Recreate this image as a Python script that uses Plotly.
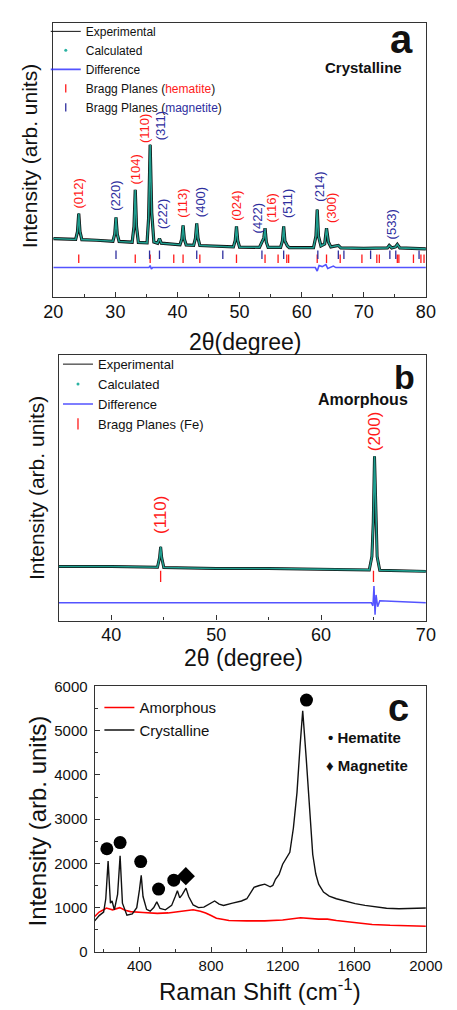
import plotly.graph_objects as go

W, H = 457, 1010
FONT = "Liberation Sans, Arial, sans-serif"
TEAL = "#1f9e8f"
RED = "#ff1a1a"
NAVY = "#2e2e9e"
DIFF_BLUE = "rgba(40,40,255,0.8)"

# ---------------- (a) crystalline XRD pattern ----------------
A_2THETA = [20.0, 22.0, 23.6, 23.9, 24.1, 24.3, 24.6, 27.0, 29.6, 29.9, 30.1, 30.3, 30.6,
            32.7, 33.0, 33.2, 33.4, 33.7, 35.1, 35.35, 35.6, 35.85, 36.2, 36.8, 37.1, 37.4,
            40.4, 40.7, 40.9, 41.1, 41.4, 42.6, 42.9, 43.1, 43.3, 43.6, 49.0, 49.3, 49.5,
            49.7, 50.0, 53.2, 53.6, 53.9, 54.1, 54.3, 54.6, 56.6, 56.9, 57.1, 57.3, 57.7,
            58.0, 61.9, 62.3, 62.5, 62.7, 63.1, 63.7, 64.0, 64.3, 64.7, 65.9, 66.3, 70.0,
            73.8, 74.1, 74.5, 75.1, 75.4, 75.8, 80.0]
A_INTENSITY = [595, 590, 586, 665, 850, 665, 584, 578, 568, 641, 810, 641, 566,
               558, 718, 1090, 718, 556, 552, 800, 1550, 860, 560, 548, 595, 548,
               532, 590, 730, 590, 530, 526, 600, 750, 600, 524, 510, 575, 720,
               575, 508, 506, 560, 600, 700, 560, 505, 505, 570, 720, 570, 520,
               503, 502, 620, 890, 620, 520, 540, 700, 560, 510, 525, 500, 495,
               500, 525, 500, 510, 535, 500, 490]
A_DIFF_2THETA = [20.0, 35.4, 35.6, 35.8, 36.0, 62.2, 62.5, 62.8, 63.3, 63.9, 64.2, 64.7, 65.1, 65.5, 80.0]
A_DIFF = [300, 300, 320, 285, 300, 300, 265, 320, 310, 330, 290, 305, 315, 300, 300]
A_HEMATITE_PLANES = [24.1, 33.2, 35.6, 39.4, 40.9, 43.6, 49.5, 54.1, 56.2, 57.6, 57.9, 62.5,
                     64.0, 66.2, 69.7, 72.1, 72.5, 75.4, 75.65, 78.0, 79.2, 79.7]
A_MAGNETITE_PLANES = [30.1, 35.5, 37.1, 43.1, 47.3, 53.6, 57.1, 62.6, 65.9, 66.8, 71.1, 74.2, 75.15, 78.9]
A_LABELS = ["(012)", "(220)", "(104)", "(110)", "(311)", "(222)", "(113)", "(400)",
            "(024)", "(422)", "(116)", "(511)", "(214)", "(300)", "(533)"]
A_LABEL_PHASE = ["h", "m", "h", "h", "m", "m", "h", "m", "h", "m", "h", "m", "m", "h", "m"]
A_LABEL_X = [24.1, 30.1, 33.2, 34.7, 37.4, 37.6, 40.9, 43.7, 49.6, 52.8, 55.2, 57.7, 62.9, 64.8, 74.4]
A_LABEL_Y = [1050, 1030, 1300, 1715, 1740, 840, 950, 970, 930, 800, 910, 950, 1120, 910, 740]

# ---------------- (b) amorphous XRD pattern ----------------
B_2THETA = [35.0, 40.0, 44.4, 44.6, 44.7, 44.8, 45.0, 50.0, 55.0, 60.0, 64.6, 64.85, 64.98,
            65.1, 65.22, 65.35, 65.6, 70.0]
B_INTENSITY = [550, 550, 542, 640, 750, 640, 540, 530, 530, 520, 515, 650, 1000,
               1670, 1000, 650, 512, 500]
B_DIFF_2THETA = [35.0, 64.8, 64.95, 65.05, 65.15, 65.25, 65.4, 65.6, 70.0]
B_DIFF = [180, 180, 150, 350, 60, 260, 140, 200, 180]
B_FE_PLANES = [44.7, 65.0]
B_LABELS = ["(110)", "(200)"]
B_LABEL_X = [44.7, 65.1]
B_LABEL_Y = [1070, 1920]

# ---------------- (c) Raman spectra ----------------
RAMAN_CRYST_X = [150, 175, 200, 212, 225, 238, 247, 260, 278, 292, 305, 330, 360, 385, 400, 410,
                 420, 440, 460, 480, 497, 515, 545, 580, 600, 612, 625, 640, 660, 675, 700, 730,
                 760, 790, 820, 845, 870, 920, 970, 1000, 1020, 1040, 1070, 1100, 1130, 1145,
                 1160, 1180, 1200, 1220, 1240, 1260, 1280, 1297, 1312, 1332, 1350, 1368, 1385,
                 1401, 1428, 1460, 1500, 1550, 1605, 1660, 1710, 1780, 1850, 1900, 1950, 2000]
RAMAN_CRYST_Y = [700, 820, 900, 1200, 2050, 1100, 1150, 950, 1300, 2170, 1100, 830, 860, 1000, 1400, 1730,
                 1250, 960, 920, 1000, 1130, 980, 950, 1050, 1250, 1380, 1220, 1300, 1440, 1250, 1060, 1000,
                 1010, 1080, 1150, 1080, 1050, 1100, 1150, 1200, 1320, 1460, 1500, 1530, 1470, 1500,
                 1640, 1750, 1980, 2100, 2250, 2800, 3600, 4640, 5450, 4350, 3240, 2200, 1760,
                 1530, 1350, 1260, 1200, 1140, 1090, 1050, 1020, 985, 975, 980, 990, 990]
RAMAN_AMORPH_X = [150, 175, 200, 215, 250, 290, 320, 350, 420, 500, 560, 600, 650, 700, 740, 770,
                  800, 830, 870, 900, 1000, 1100, 1200, 1300, 1400, 1450, 1500, 1600, 1700, 1800,
                  1900, 2000]
RAMAN_AMORPH_Y = [800, 900, 950, 990, 950, 1000, 940, 910, 890, 870, 880, 900, 920, 950, 920, 880,
                  820, 760, 730, 710, 700, 700, 720, 770, 740, 740, 710, 660, 620, 600,
                  590, 580]
HEMATITE_BANDS_X = [218, 292, 407, 507, 592, 1333]
HEMATITE_BANDS_Y = [2330, 2470, 2040, 1420, 1620, 5690]
MAGNETITE_BANDS_X = [659]
MAGNETITE_BANDS_Y = [1710]


def px_x(p):
    return p / W


def px_y(p):
    return 1 - p / H


fig = go.Figure()


def add_pattern(xs, ys, xa, ya, leg, band_width):
    """Observed pattern (black, with its scatter band) and the fitted profile on top."""
    fig.add_trace(go.Scatter(x=xs, y=ys, mode="lines", showlegend=False,
                             line=dict(color="#111111", width=band_width), xaxis=xa, yaxis=ya))
    fig.add_trace(go.Scatter(x=xs, y=ys, mode="lines", name="Experimental",
                             line=dict(color="#111111", width=1), xaxis=xa, yaxis=ya, legend=leg))
    fig.add_trace(go.Scatter(x=xs, y=ys, mode="lines", showlegend=False,
                             line=dict(color=TEAL, width=1.6), xaxis=xa, yaxis=ya))
    fig.add_trace(go.Scatter(x=[None], y=[None], mode="markers", name="Calculated",
                             marker=dict(color="#2bb3a3", size=3), xaxis=xa, yaxis=ya, legend=leg))


# (a)
add_pattern(A_2THETA, A_INTENSITY, "x", "y", "legend", 3.2)
fig.add_trace(go.Scatter(x=A_DIFF_2THETA, y=A_DIFF, mode="lines", name="Difference",
                         line=dict(color=DIFF_BLUE, width=1.6), xaxis="x", yaxis="y", legend="legend"))
fig.add_trace(go.Scatter(x=A_HEMATITE_PLANES, y=[390] * len(A_HEMATITE_PLANES), mode="markers",
                         name="Bragg Planes (<span style='color:#ff1a1a'>hematite</span>)",
                         marker=dict(symbol="line-ns", size=6, line=dict(color=RED, width=1.3)),
                         xaxis="x", yaxis="y", legend="legend"))
fig.add_trace(go.Scatter(x=A_MAGNETITE_PLANES, y=[430] * len(A_MAGNETITE_PLANES), mode="markers",
                         name="Bragg Planes (<span style='color:#2e2e9e'>magnetite</span>)",
                         marker=dict(symbol="line-ns", size=6, line=dict(color=NAVY, width=1.3)),
                         xaxis="x", yaxis="y", legend="legend"))

# (b)
add_pattern(B_2THETA, B_INTENSITY, "x2", "y2", "legend2", 3.0)
fig.add_trace(go.Scatter(x=B_DIFF_2THETA, y=B_DIFF, mode="lines", name="Difference",
                         line=dict(color=DIFF_BLUE, width=1.5), xaxis="x2", yaxis="y2", legend="legend2"))
fig.add_trace(go.Scatter(x=B_FE_PLANES, y=[450] * len(B_FE_PLANES), mode="markers",
                         name="Bragg Planes (Fe)",
                         marker=dict(symbol="line-ns", size=8, line=dict(color=RED, width=1.3)),
                         xaxis="x2", yaxis="y2", legend="legend2"))

# (c)
fig.add_trace(go.Scatter(x=RAMAN_AMORPH_X, y=RAMAN_AMORPH_Y, mode="lines", name="Amorphous",
                         line=dict(color="#ff0000", width=1.6), xaxis="x3", yaxis="y3", legend="legend3"))
fig.add_trace(go.Scatter(x=RAMAN_CRYST_X, y=RAMAN_CRYST_Y, mode="lines", name="Crystalline",
                         line=dict(color="#111111", width=1.4), xaxis="x3", yaxis="y3", legend="legend3"))
fig.add_trace(go.Scatter(x=HEMATITE_BANDS_X, y=HEMATITE_BANDS_Y, mode="markers", showlegend=False,
                         marker=dict(symbol="circle", size=13, color="#000000"), xaxis="x3", yaxis="y3"))
fig.add_trace(go.Scatter(x=MAGNETITE_BANDS_X, y=MAGNETITE_BANDS_Y, mode="markers", showlegend=False,
                         marker=dict(symbol="diamond", size=14, color="#000000"), xaxis="x3", yaxis="y3"))

frame = dict(showline=True, linecolor="#333333", linewidth=1.2, mirror=True, zeroline=False,
             showgrid=False)
xtick_ab = dict(ticks="inside", ticklen=5, tickcolor="#333333", dtick=10,
                minor=dict(ticks="inside", ticklen=3, dtick=5, tickcolor="#333333"),
                tickfont=dict(family=FONT, size=18, color="#111111"), ticklabelstandoff=-2)

legend_common = dict(xanchor="left", yanchor="top", bgcolor="rgba(0,0,0,0)", itemwidth=30,
                     tracegroupgap=0)

fig.update_layout(
    width=W, height=H, margin=dict(l=0, r=0, t=0, b=0),
    paper_bgcolor="white", plot_bgcolor="white", font=dict(family=FONT, color="#111111"),
    xaxis=dict(domain=[px_x(46), px_x(442)], range=[20, 80], anchor="y", **frame, **xtick_ab),
    yaxis=dict(domain=[px_y(293), px_y(14)], range=[0, 2790], anchor="x", showticklabels=False,
               ticks="", **frame),
    xaxis2=dict(domain=[px_x(52), px_x(442)], range=[35, 70], anchor="y2", **frame, **xtick_ab),
    yaxis2=dict(domain=[px_y(622), px_y(352)], range=[0, 2700], anchor="x2", showticklabels=False,
                ticks="", **frame),
    xaxis3=dict(domain=[px_x(90), px_x(442)], range=[150, 2000], anchor="y3", **frame,
                ticks="inside", ticklen=5, tickcolor="#333333", tick0=0, dtick=400,
                minor=dict(ticks="inside", ticklen=3, dtick=200, tickcolor="#333333"),
                tickfont=dict(family=FONT, size=15, color="#111111"), ticklabelstandoff=0),
    yaxis3=dict(domain=[px_y(959), px_y(689)], range=[0, 6000], anchor="x3", **frame,
                ticks="inside", ticklen=5, tickcolor="#333333", dtick=1000,
                minor=dict(ticks="inside", ticklen=3, dtick=500, tickcolor="#333333"),
                tickfont=dict(family=FONT, size=15, color="#111111"), ticklabelstandoff=3),
    legend=dict(x=px_x(38), y=px_y(8), font=dict(family=FONT, size=12, color="#111111"),
                **legend_common),
    legend2=dict(x=px_x(51), y=px_y(346), font=dict(family=FONT, size=13, color="#111111"),
                 **legend_common),
    legend3=dict(x=px_x(95), y=px_y(694), font=dict(family=FONT, size=15, color="#111111"),
                 **legend_common),
)

ann = []
# Miller-index labels above the indexed reflections
for txt, ph, x, y in zip(A_LABELS, A_LABEL_PHASE, A_LABEL_X, A_LABEL_Y):
    ann.append(dict(text=txt, x=x, y=y, xref="x", yref="y", textangle=-90, showarrow=False,
                    font=dict(family=FONT, size=13, color=RED if ph == "h" else NAVY)))
for txt, x, y in zip(B_LABELS, B_LABEL_X, B_LABEL_Y):
    ann.append(dict(text=txt, x=x, y=y, xref="x2", yref="y2", textangle=-90, showarrow=False,
                    font=dict(family=FONT, size=17, color=RED)))


def paper_text(text, x, y, size, bold=False, angle=0, xanchor="center"):
    return dict(text=f"<b>{text}</b>" if bold else text, x=px_x(x), y=px_y(y), xref="paper",
                yref="paper", showarrow=False, textangle=angle, xanchor=xanchor, yanchor="middle",
                font=dict(family=FONT, size=size, color="#111111"))


ann += [
    paper_text("a", 416, 31, 40, bold=True),
    paper_text("Crystalline", 376, 59, 15, bold=True),
    paper_text("b", 419, 374, 34, bold=True),
    paper_text("Amorphous", 375, 397, 16, bold=True),
    paper_text("c", 413, 711, 38, bold=True),
    paper_text("\u2022 Hematite", 336, 741, 15, bold=True, xanchor="left"),
    paper_text("\u2666 Magnetite", 334, 769, 15, bold=True, xanchor="left"),
    paper_text("Intensity (arb. units)", 21, 150, 21, angle=-90),
    paper_text("2\u03b8(degree)", 250, 339, 23),
    paper_text("Intensity (arb. units)", 29, 487, 21, angle=-90),
    paper_text("2\u03b8 (degree)", 248, 660, 23),
    paper_text("Intensity (arb. units)", 29, 826, 24, angle=-90),
    paper_text("Raman Shift (cm<sup>-1</sup>)", 266, 998, 24),
]
fig.update_layout(annotations=ann)

fig.write_html("out.html")
